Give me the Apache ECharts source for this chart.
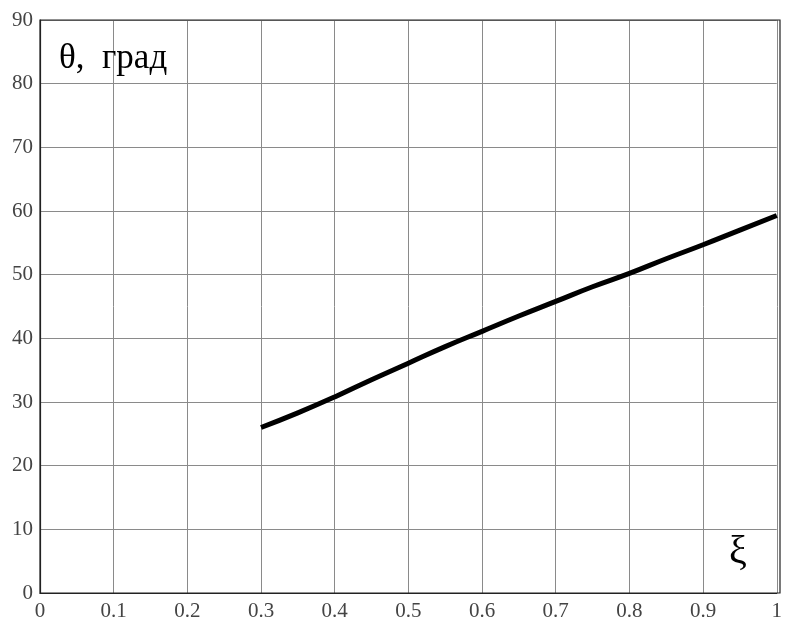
<!DOCTYPE html>
<html>
<head>
<meta charset="utf-8">
<script src="https://cdn.jsdelivr.net/npm/echarts@6/dist/echarts.min.js"></script>
<style>
  html, body { margin: 0; padding: 0; background: #fff; }
  #cn { width: 785px; height: 624px; }
</style>
</head>
<body>
<div id="cn"></div>
<script>
'use strict';

// ξ values and θ (град)
const arrXi = [0.3, 0.35, 0.4, 0.45, 0.5, 0.55, 0.6, 0.65, 0.7, 0.75, 0.8, 0.85, 0.9, 0.95, 1.0];
const arrTheta = [26.0, 28.3, 30.8, 33.5, 36.1, 38.7, 41.1, 43.5, 45.8, 48.1, 50.2, 52.5, 54.7, 57.0, 59.3];

const yLabel = 'θ,  град';
const xLabel = 'ξ';

const strFont = '"Liberation Serif", "DejaVu Serif", serif';

const chart = echarts.init(document.getElementById('cn'));

const option = {
    animation: false,
    grid: {
        left: 40,
        top: 20,
        right: 5,
        bottom: 31
    },
    xAxis: {
        type: 'value',
        min: 0,
        max: 1,
        interval: 0.1,
        axisLine: { show: true, onZero: false, lineStyle: { color: '#222', width: 1.2 } },
        axisTick: { show: false },
        axisLabel: {
            color: '#444',
            fontFamily: strFont,
            fontSize: 21,
            margin: 8,
            formatter: v => (v === 0 || v === 1) ? String(v) : v.toFixed(1)
        },
        splitLine: { show: true, lineStyle: { color: '#8a8a8a', width: 1 } }
    },
    yAxis: {
        type: 'value',
        min: 0,
        max: 90,
        interval: 10,
        axisLine: { show: true, lineStyle: { color: '#222', width: 1.2 } },
        axisTick: { show: false },
        axisLabel: {
            color: '#444',
            fontFamily: strFont,
            fontSize: 21,
            margin: 7
        },
        splitLine: { show: true, lineStyle: { color: '#8a8a8a', width: 1 } }
    },
    graphic: [
        {
            type: 'rect',
            shape: { x: 40, y: 20, width: 740, height: 573 },
            style: { fill: 'none', stroke: '#222', lineWidth: 1.2 },
            silent: true,
            z: 10
        },
        {
            type: 'text',
            left: 59,
            top: 41,
            style: { text: yLabel, font: '35px ' + strFont, fill: '#000' },
            z: 20
        },
        {
            type: 'text',
            left: 729,
            top: 532,
            style: { text: xLabel, font: '40px ' + strFont, fill: '#000' },
            z: 20
        }
    ],
    series: [{
        type: 'line',
        data: arrXi.map((x, i) => [x, arrTheta[i]]),
        smooth: true,
        showSymbol: false,
        lineStyle: { color: '#000', width: 5 },
        z: 5
    }]
};

chart.setOption(option);
</script>
</body>
</html>
